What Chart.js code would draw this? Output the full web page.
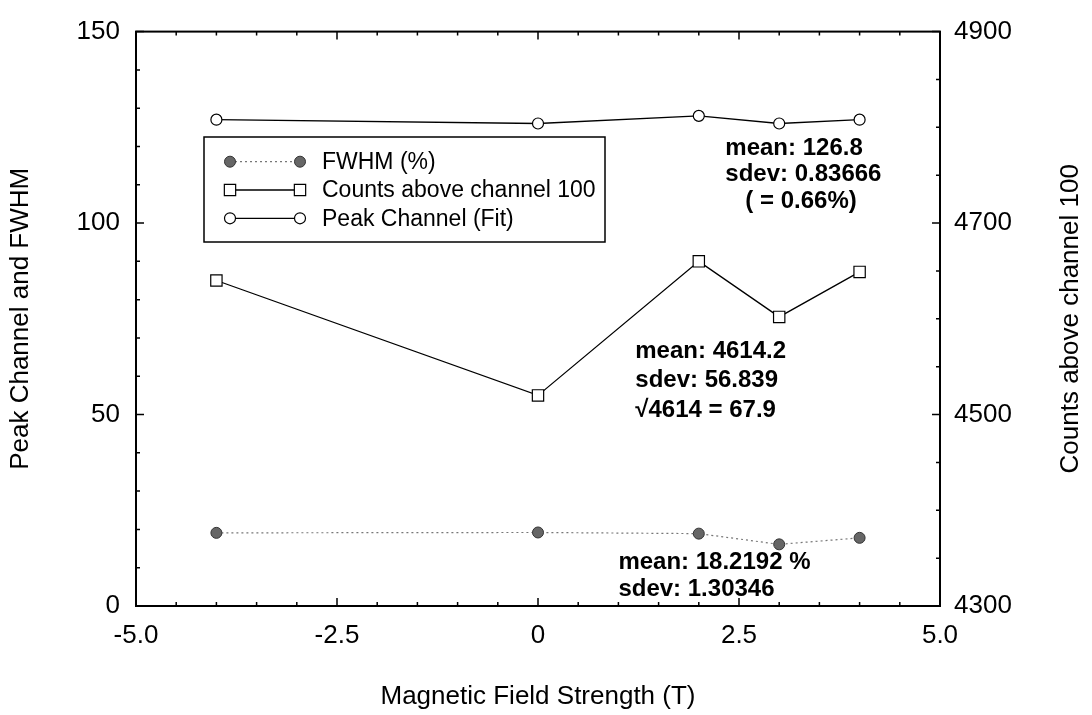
<!DOCTYPE html>
<html>
<head>
<meta charset="utf-8">
<title>Peak channel, FWHM and counts vs magnetic field</title>
<script src="https://cdn.jsdelivr.net/npm/chart.js@4.4.0/dist/chart.umd.min.js"></script>
<style>
  html, body { margin: 0; padding: 0; background: #fff; }
  #wrap { width: 1092px; height: 715px; position: relative; }
</style>
</head>
<body>
<div id="wrap"><canvas id="chart"></canvas></div>
<script>
// magnetic field values (T)
const fieldT = [-4, 0, 2, 3, 4];
// series
const fwhmPct = [19.1, 19.2, 18.9, 16.1, 17.8];
const countsAbove100 = [4640, 4520, 4660, 4602, 4649];
const peakChannel = [127, 126, 128, 126, 127];

const seriesNames = ['FWHM (%)', 'Counts above channel 100', 'Peak Channel (Fit)'];

const xTitle = 'Magnetic Field Strength (T)';
const yTitle = 'Peak Channel and FWHM';
const y2Title = 'Counts above channel 100';

// text blocks in the plot, anchored in x / left-y data units
const notes = [
  { x: 2.33, y: 119.6, lines: ['mean: 126.8', 'sdev: 0.83666', '   ( = 0.66%)'], step: 26.5 },
  { x: 1.21, y: 66.6, lines: ['mean: 4614.2', 'sdev: 56.839', '\u221A4614 = 67.9'], step: 29.7 },
  { x: 1.0, y: 11.3, lines: ['mean: 18.2192 %', 'sdev: 1.30346'], step: 27 }
];

const FONT = "'Liberation Sans', Arial, sans-serif";

function toPoints(ys) {
  return fieldT.map((x, i) => ({ x: x, y: ys[i] }));
}

function drawMarker(ctx, ds, x, y) {
  const r = ds.pointRadius;
  ctx.save();
  ctx.setLineDash([]);
  ctx.lineWidth = ds.pointBorderWidth;
  ctx.fillStyle = ds.pointBackgroundColor;
  ctx.strokeStyle = ds.pointBorderColor;
  ctx.beginPath();
  if (ds.pointStyle === 'rect') {
    const h = r * Math.SQRT1_2;
    ctx.rect(x - h, y - h, 2 * h, 2 * h);
  } else {
    ctx.arc(x, y, r, 0, Math.PI * 2);
  }
  ctx.fill();
  ctx.stroke();
  ctx.restore();
}

const framePlugin = {
  id: 'frame',
  afterDraw(chart) {
    const ctx = chart.ctx;
    const a = chart.chartArea;
    const xs = chart.scales.x, ys = chart.scales.y, ys2 = chart.scales.y2;
    ctx.save();

    // box around the plot
    ctx.strokeStyle = '#000';
    ctx.lineWidth = 2;
    ctx.strokeRect(a.left, a.top, a.right - a.left, a.bottom - a.top);

    // inward tick marks
    ctx.lineWidth = 1.5;
    ctx.beginPath();
    xs.ticks.forEach(t => {
      const px = xs.getPixelForValue(t.value);
      const len = t.label !== '' ? 8 : 4;
      ctx.moveTo(px, a.bottom); ctx.lineTo(px, a.bottom - len);
      ctx.moveTo(px, a.top); ctx.lineTo(px, a.top + len);
    });
    ys.ticks.forEach(t => {
      const py = ys.getPixelForValue(t.value);
      const len = t.label !== '' ? 8 : 4;
      ctx.moveTo(a.left, py); ctx.lineTo(a.left + len, py);
    });
    ys2.ticks.forEach(t => {
      const py = ys2.getPixelForValue(t.value);
      const len = t.label !== '' ? 8 : 4;
      ctx.moveTo(a.right, py); ctx.lineTo(a.right - len, py);
    });
    ctx.stroke();

    // right axis title, reading bottom to top
    ctx.save();
    ctx.translate(1071, (a.top + a.bottom) / 2);
    ctx.rotate(-Math.PI / 2);
    ctx.font = '26px ' + FONT;
    ctx.fillStyle = '#000';
    ctx.textAlign = 'center';
    ctx.textBaseline = 'middle';
    ctx.fillText(y2Title, 0, 0);
    ctx.restore();

    // legend box
    const lx = 204, ly = 137, lw = 401, lh = 105;
    ctx.fillStyle = '#fff';
    ctx.fillRect(lx, ly, lw, lh);
    ctx.lineWidth = 1.5;
    ctx.strokeStyle = '#000';
    ctx.strokeRect(lx, ly, lw, lh);
    ctx.font = '23px ' + FONT;
    ctx.textBaseline = 'middle';
    ctx.textAlign = 'left';
    chart.data.datasets.forEach((ds, i) => {
      const rowY = 161.7 + i * 28.3;
      ctx.save();
      ctx.strokeStyle = ds.borderColor;
      ctx.lineWidth = ds.borderWidth;
      ctx.setLineDash(ds.borderDash || []);
      ctx.beginPath();
      ctx.moveTo(230, rowY);
      ctx.lineTo(300, rowY);
      ctx.stroke();
      ctx.restore();
      drawMarker(ctx, ds, 230, rowY);
      drawMarker(ctx, ds, 300, rowY);
      ctx.fillStyle = '#000';
      ctx.fillText(ds.label, 322, rowY + 1);
    });

    // statistics notes
    ctx.font = 'bold 24px ' + FONT;
    ctx.fillStyle = '#000';
    ctx.textAlign = 'left';
    ctx.textBaseline = 'middle';
    notes.forEach(n => {
      const px = xs.getPixelForValue(n.x);
      const py = ys.getPixelForValue(n.y);
      n.lines.forEach((line, k) => ctx.fillText(line, px, py + k * n.step));
    });

    ctx.restore();
  }
};

function majorLabel(step, fmt) {
  return function (value) {
    const q = value / step;
    return Math.abs(q - Math.round(q)) < 1e-9 ? fmt(value) : '';
  };
}

const tickFont = { family: FONT, size: 26 };
const titleFont = { family: FONT, size: 26 };

new Chart(document.getElementById('chart'), {
  type: 'line',
  data: {
    datasets: [
      {
        label: seriesNames[0],
        data: toPoints(fwhmPct),
        yAxisID: 'y',
        borderColor: '#777',
        borderWidth: 1.2,
        borderDash: [2, 3],
        pointStyle: 'circle',
        pointRadius: 5.5,
        pointBorderWidth: 1,
        pointBackgroundColor: '#666',
        pointBorderColor: '#333'
      },
      {
        label: seriesNames[1],
        data: toPoints(countsAbove100),
        yAxisID: 'y2',
        borderColor: '#000',
        borderWidth: 1.3,
        pointStyle: 'rect',
        pointRadius: 8,
        pointBorderWidth: 1.2,
        pointBackgroundColor: '#fff',
        pointBorderColor: '#000'
      },
      {
        label: seriesNames[2],
        data: toPoints(peakChannel),
        yAxisID: 'y',
        borderColor: '#000',
        borderWidth: 1.3,
        pointStyle: 'circle',
        pointRadius: 5.5,
        pointBorderWidth: 1.2,
        pointBackgroundColor: '#fff',
        pointBorderColor: '#000'
      }
    ]
  },
  options: {
    responsive: true,
    maintainAspectRatio: false,
    animation: false,
    layout: { padding: { top: 23, left: 0, right: 0, bottom: 0 } },
    plugins: {
      legend: { display: false },
      tooltip: { enabled: false }
    },
    scales: {
      x: {
        type: 'linear',
        min: -5,
        max: 5,
        grid: { display: false, drawTicks: false },
        border: { display: false },
        ticks: {
          stepSize: 0.5,
          autoSkip: false,
          maxRotation: 0,
          padding: 14,
          color: '#000',
          font: tickFont,
          callback: majorLabel(2.5, v => v === 0 ? '0' : v.toFixed(1))
        },
        title: { display: true, text: xTitle, color: '#000', font: titleFont, padding: { top: 0, bottom: 3 } },
        afterFit(s) { s.height = 109; }
      },
      y: {
        position: 'left',
        min: 0,
        max: 150,
        grid: { display: false, drawTicks: false },
        border: { display: false },
        ticks: {
          stepSize: 10,
          autoSkip: false,
          padding: 16,
          color: '#000',
          font: tickFont,
          callback: majorLabel(50, v => String(v))
        },
        title: { display: true, text: yTitle, color: '#000', font: titleFont, padding: { top: 5, bottom: 0 } },
        afterFit(s) { s.width = 136; }
      },
      y2: {
        position: 'right',
        min: 4300,
        max: 4900,
        grid: { display: false, drawTicks: false },
        border: { display: false },
        ticks: {
          stepSize: 50,
          autoSkip: false,
          padding: 14,
          color: '#000',
          font: tickFont,
          callback: v => ((v - 4300) % 200 === 0 ? String(v) : '')
        },
        title: { display: false },
        afterFit(s) { s.width = 152; }
      }
    }
  },
  plugins: [framePlugin]
});
</script>
</body>
</html>
